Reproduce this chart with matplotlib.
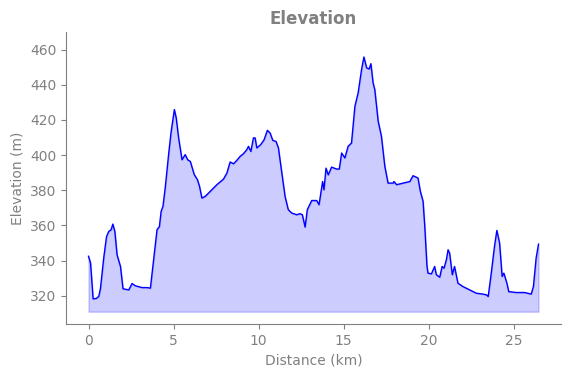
import matplotlib
matplotlib.use("Agg")
import matplotlib.pyplot as plt

distance_km = [0.00, 0.12, 0.27, 0.45, 0.60, 0.70, 0.90, 1.06, 1.19, 1.33, 1.43, 1.55, 1.68, 1.88,
               2.03, 2.37, 2.56, 2.76, 3.15, 3.44, 3.64, 3.83, 4.03, 4.17, 4.27, 4.38, 4.52, 4.71,
               4.85, 5.05, 5.16, 5.30, 5.50, 5.69, 5.83, 5.99, 6.22, 6.41, 6.53, 6.67, 6.87, 7.16,
               7.55, 7.94, 8.14, 8.33, 8.53, 8.72, 8.92, 9.11, 9.31, 9.41, 9.55, 9.70, 9.80, 9.90,
               10.13, 10.33, 10.52, 10.68, 10.84, 11.03, 11.17, 11.37, 11.56, 11.75, 11.95, 12.24,
               12.44, 12.58, 12.74, 12.87, 13.13, 13.42, 13.56, 13.77, 13.85, 13.97, 14.10, 14.30,
               14.59, 14.75, 14.89, 15.08, 15.27, 15.47, 15.67, 15.86, 16.06, 16.20, 16.36, 16.51,
               16.61, 16.74, 16.84, 17.04, 17.23, 17.43, 17.62, 17.92, 17.97, 18.12, 18.50, 18.90,
               19.09, 19.38, 19.52, 19.68, 19.78, 19.91, 19.97, 20.17, 20.36, 20.46, 20.66, 20.80,
               20.91, 21.05, 21.15, 21.24, 21.40, 21.53, 21.73, 22.02, 22.42, 22.81, 23.20, 23.40,
               23.51, 23.69, 23.88, 24.02, 24.18, 24.33, 24.43, 24.61, 24.72, 25.16, 25.65, 26.04,
               26.17, 26.33, 26.47]
elevation_m = [342.5, 338.6, 318.3, 318.5, 319.6, 324.0, 342.0, 353.7, 356.6, 357.6, 360.8, 356.6, 343.3, 336.7,
               324.0, 323.4, 327.0, 325.7, 324.7, 324.7, 324.4, 340.5, 357.6, 359.4, 368.0, 370.9, 382.2, 400.3,
               412.6, 425.9, 421.1, 409.8, 397.4, 400.3, 397.4, 396.4, 388.9, 386.0, 382.2, 375.6, 376.6, 379.4,
               383.2, 386.4, 389.8, 396.1, 395.1, 397.0, 399.3, 400.8, 403.1, 405.0, 402.1, 409.8, 409.8, 404.1,
               406.0, 408.8, 414.1, 412.6, 408.4, 407.8, 404.1, 389.8, 376.6, 369.0, 367.1, 366.1,
               366.7, 366.1, 359.1, 369.0, 374.2, 374.2, 371.8, 385.0, 380.3, 392.6, 388.8, 393.2,
               392.1, 392.1, 401.2, 398.4, 405.0, 406.9, 427.8, 435.4, 448.6, 455.8, 449.6, 449.0,
               452.0, 441.0, 437.2, 419.2, 410.7, 393.6, 384.1, 384.1, 385.0, 383.2, 384.1, 385.0,
               388.3, 387.0, 379.4, 373.7, 359.4, 336.7, 332.9, 332.5, 336.7, 332.0, 330.6, 336.7,
               335.7, 340.5, 346.2, 344.3, 332.0, 336.7, 327.2, 325.3, 323.4, 321.5, 321.0, 320.6,
               319.6, 332.9, 348.1, 357.2, 350.0, 331.0, 332.9, 327.2, 322.4, 321.9, 321.9, 321.0,
               325.3, 341.5, 349.4]
fill_base = 311.0

fig = plt.figure(figsize=(5.71, 3.78), dpi=100)
ax = fig.add_axes([0.1156, 0.1429, 0.8669, 0.7724])
gray = "#808080"
ax.fill_between(distance_km, elevation_m, fill_base, color="blue", alpha=0.2)
ax.plot(distance_km, elevation_m, color="blue", linewidth=1)
ax.set_ylim(304, 470)
ax.set_xticks([0, 5, 10, 15, 20, 25])
ax.set_yticks([320, 340, 360, 380, 400, 420, 440, 460])
ax.set_title("Elevation", color=gray, fontweight="bold", fontsize=12)
ax.set_xlabel("Distance (km)", color=gray)
ax.set_ylabel("Elevation (m)", color=gray)
for s in ["top", "right"]:
    ax.spines[s].set_visible(False)
for s in ["left", "bottom"]:
    ax.spines[s].set_color(gray)
ax.tick_params(colors=gray)
fig.savefig("out.png", dpi=100)
